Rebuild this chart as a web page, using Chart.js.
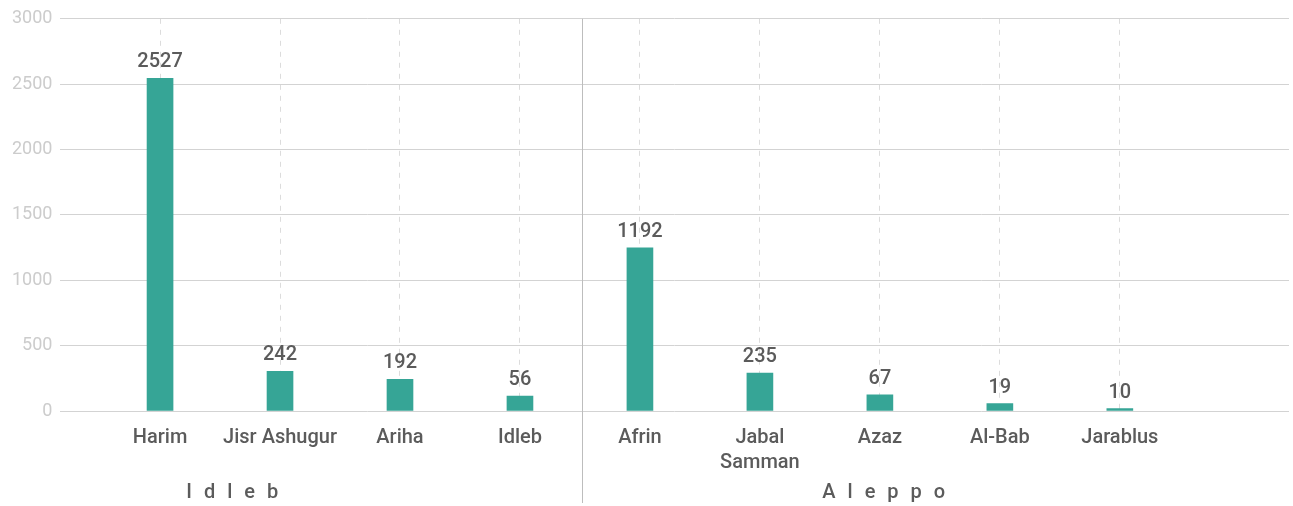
<!DOCTYPE html>
<html>
<head>
<meta charset="utf-8">
<script src="https://cdn.jsdelivr.net/npm/chart.js@4/dist/chart.umd.min.js"></script>
<style>
  body { margin: 0; background: #fff; }
  #wrap { width: 1293px; height: 506px; position: relative; }
</style>
</head>
<body>
<div id="wrap"><canvas id="bar-chart"></canvas></div>
<script>
// districts, in drawing order
const districts = ['Harim', 'Jisr Ashugur', 'Ariha', 'Idleb', 'Afrin', ['Jabal', 'Samman'], 'Azaz', 'Al-Bab', 'Jarablus']
// bar heights as drawn in the picture
const barValues = [2545, 304, 243, 114, 1248, 291, 124, 56, 18]
// numbers printed above the bars
const printedValues = [2527, 242, 192, 56, 1192, 235, 67, 19, 10]
const yTicks = [0, 500, 1000, 1500, 2000, 2500, 3000]
const governorates = ['I d l e b', 'A l e p p o']

const barColor = '#36a596'
const textColor = '#5b5b5b'
const fontFamily = 'Roboto, "Open Sans", sans-serif'

const points = barValues.map(function (v, i) { return { x: i, y: v } })

function isDistrict (v) {
  return Number.isInteger(v) && v >= 0 && v < districts.length
}

const extrasPlugin = {
  id: 'extras',
  afterDatasetsDraw: function (chart, args, opts) {
    const ctx = chart.ctx
    const xs = chart.scales.x
    const meta = chart.getDatasetMeta(0)

    // printed values above bars
    ctx.save()
    ctx.fillStyle = textColor
    ctx.font = '500 20px ' + fontFamily
    ctx.textAlign = 'center'
    ctx.textBaseline = 'bottom'
    meta.data.forEach(function (bar, i) {
      ctx.fillText(String(printedValues[i]), bar.x, bar.y - 6)
    })
    ctx.restore()

    // separator between the two governorates
    const sepX = Math.round(xs.getPixelForValue(opts.separatorAt)) + 0.5
    ctx.save()
    ctx.strokeStyle = '#bdbdbd'
    ctx.lineWidth = 1
    ctx.beginPath()
    ctx.moveTo(sepX, chart.chartArea.top)
    ctx.lineTo(sepX, chart.height - 3)
    ctx.stroke()
    ctx.restore()

    // governorate names
    ctx.save()
    ctx.fillStyle = textColor
    ctx.font = '500 20px ' + fontFamily
    ctx.textAlign = 'center'
    ctx.textBaseline = 'middle'
    ctx.letterSpacing = '3.5px'
    governorates.forEach(function (name, i) {
      ctx.fillText(name, xs.getPixelForValue(opts.groupLabelAt[i]) + 2, opts.groupLabelY)
    })
    ctx.restore()
  },
}

const config = {
  type: 'bar',
  data: {
    datasets: [{
      data: points,
      backgroundColor: barColor,
      barThickness: 26,
    }],
  },
  options: {
    responsive: true,
    maintainAspectRatio: false,
    animation: false,
    layout: {
      padding: { top: 8, right: 4, left: 4, bottom: 17 },
    },
    plugins: {
      legend: { display: false },
      tooltip: { enabled: false },
      extras: {
        separatorAt: 3.52,
        groupLabelAt: [0.6, 6.03],
        groupLabelY: 493,
      },
    },
    scales: {
      x: {
        type: 'linear',
        min: -0.83,
        max: 9.41,
        offset: false,
        border: { display: false, dash: [5, 6] },
        grid: {
          offset: false,
          drawTicks: false,
          color: function (c) {
            return (c.tick && isDistrict(c.tick.value)) ? '#dcdcdc' : 'rgba(0,0,0,0)'
          },
        },
        ticks: {
          stepSize: 1,
          includeBounds: false,
          autoSkip: false,
          maxRotation: 0,
          padding: 14,
          color: textColor,
          font: { family: fontFamily, size: 20, weight: '500', lineHeight: 1.25 },
          callback: function (value) {
            return isDistrict(value) ? districts[value] : ''
          },
        },
      },
      y: {
        min: 0,
        max: 3000,
        border: { display: false },
        afterBuildTicks: function (axis) {
          axis.ticks = yTicks.map(function (v) { return { value: v } })
        },
        grid: {
          color: '#d3d3d3',
          drawTicks: false,
        },
        ticks: {
          padding: 8,
          color: '#cccccc',
          font: { family: fontFamily, size: 18 },
          callback: function (value) { return String(value) },
        },
      },
    },
  },
  plugins: [extrasPlugin],
}

const ctx = document.getElementById('bar-chart').getContext('2d')
const myChart = new Chart(ctx, config)
</script>
</body>
</html>
